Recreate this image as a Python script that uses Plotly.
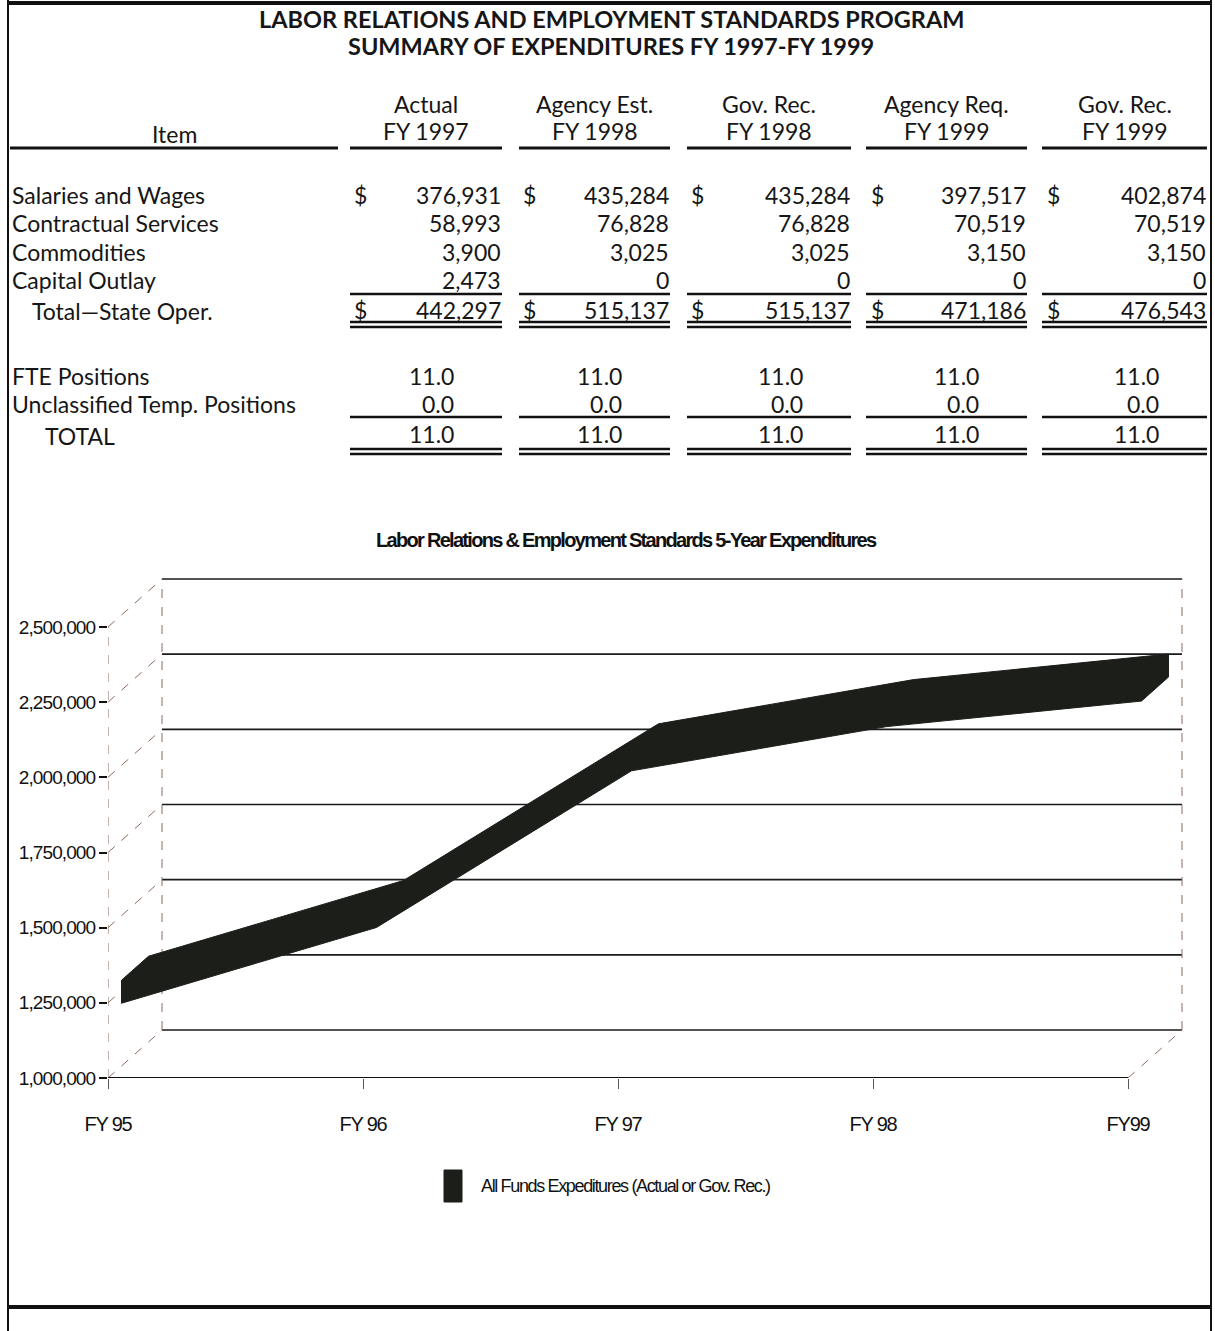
import plotly.graph_objects as go

# ---------------- table data ----------------
col_head_1 = ["Actual", "Agency Est.", "Gov. Rec.", "Agency Req.", "Gov. Rec."]
col_head_2 = ["FY 1997", "FY 1998", "FY 1998", "FY 1999", "FY 1999"]

expense_items = ["Salaries and Wages", "Contractual Services", "Commodities", "Capital Outlay"]
salaries_wages = [376931, 435284, 435284, 397517, 402874]
contractual_services = [58993, 76828, 76828, 70519, 70519]
commodities = [3900, 3025, 3025, 3150, 3150]
capital_outlay = [2473, 0, 0, 0, 0]
total_state_oper = [442297, 515137, 515137, 471186, 476543]

position_items = ["FTE Positions", "Unclassified Temp. Positions"]
fte_positions = [11.0, 11.0, 11.0, 11.0, 11.0]
unclassified_temp = [0.0, 0.0, 0.0, 0.0, 0.0]
total_positions = [11.0, 11.0, 11.0, 11.0, 11.0]

# ---------------- chart data ----------------
fiscal_years = ["FY 95", "FY 96", "FY 97", "FY 98", "FY99"]
all_funds = [1247000, 1499000, 2020000, 2167000, 2252000]
y_ticks = [1000000, 1250000, 1500000, 1750000, 2000000, 2250000, 2500000]
legend_label = "All Funds Expeditures (Actual or Gov. Rec.)"

W, H = 1215, 1331
TXT = "Lato, 'Open Sans', sans-serif"
SANS = "'Liberation Sans', Arial, sans-serif"


def px(x):
    return x / W


def py(y):
    return 1 - y / H


def tight(s, spacing):
    # condensed look for the chart lettering
    return f'<span style="letter-spacing:{spacing}px">{s}</span>'


fig = go.Figure()
shapes = []
annotations = []


def hline(x0, x1, y, width=2, color="#111"):
    shapes.append(dict(type="line", xref="paper", yref="paper",
                       x0=px(x0), x1=px(x1), y0=py(y), y1=py(y),
                       line=dict(color=color, width=width)))


def vline(x, y0, y1, width=2, color="#111"):
    shapes.append(dict(type="line", xref="paper", yref="paper",
                       x0=px(x), x1=px(x), y0=py(y0), y1=py(y1),
                       line=dict(color=color, width=width)))


def text(x, y, s, size=23, anchor="left", family=TXT, color="#161616", weight=None):
    f = dict(family=family, size=size, color=color)
    if weight:
        f["weight"] = weight
    annotations.append(dict(xref="paper", yref="paper", x=px(x), y=py(y), text=s,
                            showarrow=False, xanchor=anchor, yanchor="middle",
                            font=f))


# page frame
vline(8, 0, H, width=2)
vline(1211, 0, H, width=2)
hline(8, 1211, 3, width=4)
hline(8, 1211, 1307, width=4)

# titles
text(611, 19, "LABOR RELATIONS AND EMPLOYMENT STANDARDS PROGRAM", size=23.5, anchor="center", weight=700)
text(611, 46, "SUMMARY OF EXPENDITURES FY 1997-FY 1999", size=23.5, anchor="center", weight=700)

# column layout
col_left = [350, 519, 687, 866, 1042]
col_right = [502, 670, 851, 1027, 1207]
dollar_x = [352, 521, 689, 869, 1045]

text(174, 134, "Item", anchor="center")
hline(10, 338, 148, width=3)
for i in range(5):
    cx = (col_left[i] + col_right[i]) / 2
    text(cx, 104, col_head_1[i], anchor="center")
    text(cx, 131, col_head_2[i], anchor="center")
    hline(col_left[i], col_right[i], 148, width=3)

# expenditure rows
row_y = [195, 223, 252, 280]
rows = [salaries_wages, contractual_services, commodities, capital_outlay]
for label, y, vals in zip(expense_items, row_y, rows):
    text(10, y, label)
    for i in range(5):
        text(col_right[i] + 1, y, f"{vals[i]:,}", anchor="right")
for i in range(5):
    text(dollar_x[i], row_y[0], "$")

text(30, 311, "Total\u2014State Oper.")
for i in range(5):
    text(dollar_x[i], 310, "$")
    text(col_right[i] + 1, 310, f"{total_state_oper[i]:,}", anchor="right")
    hline(col_left[i], col_right[i], 294, width=2.5)
    hline(col_left[i], col_right[i], 322, width=2.5)
    hline(col_left[i], col_right[i], 327, width=2.5)

# position rows
pos_y = [376, 404]
for label, y, vals in zip(position_items, pos_y, [fte_positions, unclassified_temp]):
    text(10, y, label)
    for i in range(5):
        text(col_right[i] - 46, y, f"{vals[i]:.1f}", anchor="right")
text(43, 436, "TOTAL")
for i in range(5):
    text(col_right[i] - 46, 434, f"{total_positions[i]:.1f}", anchor="right")
    hline(col_left[i], col_right[i], 417, width=2.5)
    hline(col_left[i], col_right[i], 449, width=2.5)
    hline(col_left[i], col_right[i], 454, width=2.5)

# ---------------- pseudo-3D line chart ----------------
PX_PER_CAT = 255.0
VAL_PER_PX = 1500000 / 451.0
X0_PX, X1_PX = 108, 1190
Y0_PX, Y1_PX = 1078, 570
DEPTH_X = 54 / PX_PER_CAT          # depth offset in category units
DEPTH_Y = 48 * VAL_PER_PX          # depth offset in value units
THICK = 76500                       # ribbon thickness in value units
Z_FRONT, Z_BACK = 0.25, 0.75        # ribbon depth band

x_range = [0, (X1_PX - X0_PX) / PX_PER_CAT]
y_range = [1000000, 1000000 + (Y0_PX - Y1_PX) * VAL_PER_PX]

wall_dash = dict(color="#8c6a5c", width=1, dash="dash")
grid_line = dict(color="#1a1a1a", width=1.6)
x_last = len(fiscal_years) - 1
vmin, vmax = y_ticks[0], y_ticks[-1]


def seg(xs, ys, line):
    fig.add_trace(go.Scatter(x=xs, y=ys, mode="lines", line=line,
                             hoverinfo="skip", showlegend=False))


# side wall diagonals and back wall gridlines
for v in y_ticks:
    seg([0, DEPTH_X], [v, v + DEPTH_Y], wall_dash)
    seg([DEPTH_X, x_last + DEPTH_X], [v + DEPTH_Y, v + DEPTH_Y], grid_line)
# wall edges
seg([DEPTH_X, DEPTH_X], [vmin + DEPTH_Y, vmax + DEPTH_Y], wall_dash)
seg([x_last + DEPTH_X, x_last + DEPTH_X], [vmin + DEPTH_Y, vmax + DEPTH_Y], wall_dash)
seg([0, 0], [vmin, vmax], wall_dash)
seg([x_last, x_last + DEPTH_X], [vmin, vmin + DEPTH_Y], wall_dash)
# floor front edge
seg([0, x_last], [vmin, vmin], dict(color="#111", width=2))

# ribbon silhouette built from the series values
n = len(all_funds)
fb_x = [i + Z_FRONT * DEPTH_X for i in range(n)]
fb_y = [all_funds[i] - THICK / 2 + Z_FRONT * DEPTH_Y for i in range(n)]
bt_x = [i + Z_BACK * DEPTH_X for i in range(n)]
bt_y = [all_funds[i] + THICK / 2 + Z_BACK * DEPTH_Y for i in range(n)]
rx = fb_x + [x_last + Z_BACK * DEPTH_X] + bt_x[::-1] + [Z_FRONT * DEPTH_X, fb_x[0]]
ry = fb_y + [all_funds[-1] - THICK / 2 + Z_BACK * DEPTH_Y] + bt_y[::-1] + \
    [all_funds[0] + THICK / 2 + Z_FRONT * DEPTH_Y, fb_y[0]]
fig.add_trace(go.Scatter(x=rx, y=ry, mode="lines", fill="toself",
                         fillcolor="#1c1e1a", line=dict(color="#1c1e1a", width=1),
                         name=legend_label, showlegend=False, hoverinfo="skip"))

# chart title and legend
text(626, 540, tight("Labor Relations &amp; Employment Standards 5-Year Expenditures", -1.7),
     size=20, anchor="center", family=SANS, weight=700, color="#111")
shapes.append(dict(type="rect", xref="paper", yref="paper",
                   x0=px(444), x1=px(462), y0=py(1202), y1=py(1170),
                   fillcolor="#1c1e1a", line=dict(color="#1c1e1a", width=1)))
text(479, 1186, tight(legend_label, -1.35), size=18, family=SANS, color="#111")

fig.update_layout(
    width=W, height=H,
    margin=dict(l=0, r=0, t=0, b=0, autoexpand=False),
    paper_bgcolor="white", plot_bgcolor="rgba(0,0,0,0)",
    shapes=shapes, annotations=annotations, showlegend=False,
    xaxis=dict(domain=[px(X0_PX), px(X1_PX)], range=x_range, automargin=False,
               tickvals=list(range(n)), ticktext=[tight(s, -1.2) for s in fiscal_years],
               ticks="outside", ticklen=10, tickcolor="#555", tickwidth=1,
               showgrid=False, zeroline=False, showline=False,
               ticklabelstandoff=18,
               tickfont=dict(family=SANS, size=20, color="#111")),
    yaxis=dict(domain=[py(Y0_PX), py(Y1_PX)], range=y_range, automargin=False,
               tickvals=y_ticks, ticktext=[tight(f"{v:,}", -0.9) for v in y_ticks],
               ticks="outside", ticklen=8, tickcolor="#111", tickwidth=1.5,
               showgrid=False, zeroline=False, showline=False,
               tickfont=dict(family=SANS, size=19, color="#111")),
)

fig.write_html("out.html")
